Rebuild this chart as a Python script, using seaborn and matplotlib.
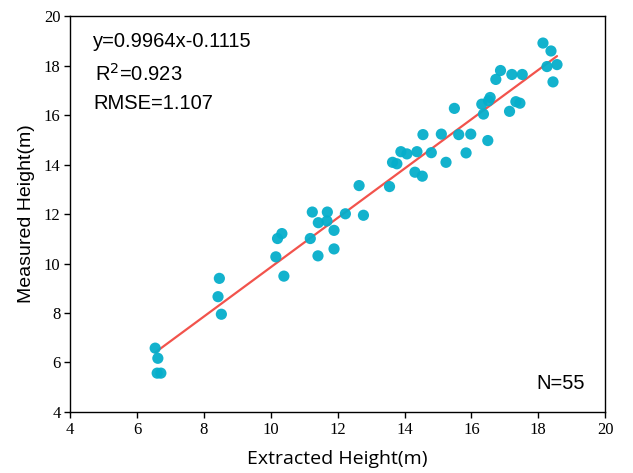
import matplotlib
matplotlib.use("Agg")
import matplotlib.pyplot as plt
import numpy as np
import pandas as pd
import seaborn as sns

# Extracted vs measured tree height (m)
extracted = [6.54, 6.62, 6.60, 6.71, 8.42, 8.46, 8.52, 10.15, 10.20, 10.33,
             10.39, 11.18, 11.24, 11.42, 11.41, 11.68, 11.69, 11.89, 11.89, 12.23,
             12.64, 12.77, 13.55, 13.64, 13.77, 13.89, 14.07, 14.31, 14.37, 14.53,
             14.55, 14.80, 15.10, 15.24, 15.49, 15.62, 15.84, 15.98, 16.31, 16.36,
             16.49, 16.51, 16.56, 16.73, 16.87, 17.14, 17.21, 17.33, 17.45, 17.52,
             18.14, 18.26, 18.38, 18.44, 18.56]
measured = [6.58, 6.17, 5.57, 5.57, 8.66, 9.40, 7.95, 10.27, 11.01, 11.21,
            9.49, 11.01, 12.08, 11.65, 10.31, 11.72, 12.08, 11.34, 10.59, 12.01,
            13.15, 11.95, 13.11, 14.09, 14.03, 14.52, 14.43, 13.69, 14.52, 13.53,
            15.21, 14.48, 15.23, 14.09, 16.27, 15.21, 14.47, 15.23, 16.44, 16.04,
            14.97, 16.58, 16.71, 17.44, 17.80, 16.15, 17.64, 16.54, 16.48, 17.64,
            18.91, 17.96, 18.59, 17.34, 18.04]
slope, intercept = 0.9964, -0.1115

df = pd.DataFrame({"Extracted": extracted, "Measured": measured})

sns.set_theme(style="white")
plt.rcParams["font.family"] = ["Liberation Sans", "DejaVu Sans"]
plt.rcParams["text.color"] = "black"
plt.rcParams["axes.labelcolor"] = "black"
plt.rcParams["xtick.color"] = "black"
plt.rcParams["ytick.color"] = "black"

fig = plt.figure(figsize=(6.33, 4.73), dpi=100)
ax = fig.add_axes([0.111, 0.129, 0.845, 0.837])

sns.scatterplot(data=df, x="Extracted", y="Measured", ax=ax, color="#06AECB",
                s=65, edgecolor="none", alpha=0.95, zorder=3)

# fitted line over the data range
xs = np.array([min(extracted), max(extracted)])
sns.lineplot(x=xs, y=slope * xs + intercept, ax=ax, color="#F2534C", linewidth=1.6, zorder=2)

ax.set_xlim(4, 20)
ax.set_ylim(4, 20)
ax.set_xticks(range(4, 21, 2))
ax.set_yticks(range(4, 21, 2))
for lab in ax.get_xticklabels() + ax.get_yticklabels():
    lab.set_fontfamily("Liberation Serif")
    lab.set_fontsize(12)
ax.tick_params(axis="both", direction="out", length=4, width=1, color="black",
               labelcolor="black", bottom=True, left=True, pad=3)
for sp in ax.spines.values():
    sp.set_color("black")
    sp.set_linewidth(1.0)

ax.set_xlabel("Extracted Height(m)", fontsize=14, labelpad=9, fontfamily="Open Sans")
ax.set_ylabel("Measured Height(m)", fontsize=14, labelpad=6)

ax.text(0.043, 0.96, "y=0.9964x-0.1115", transform=ax.transAxes, fontsize=14.5, va="top")
ax.text(0.046, 0.882, r"R$^2$=0.923", transform=ax.transAxes, fontsize=14.5, va="top")
ax.text(0.043, 0.803, "RMSE=1.107", transform=ax.transAxes, fontsize=14.5, va="top")
ax.text(0.872, 0.048, "N=55", transform=ax.transAxes, fontsize=14.5, va="bottom")

fig.savefig("out.png", dpi=100)
